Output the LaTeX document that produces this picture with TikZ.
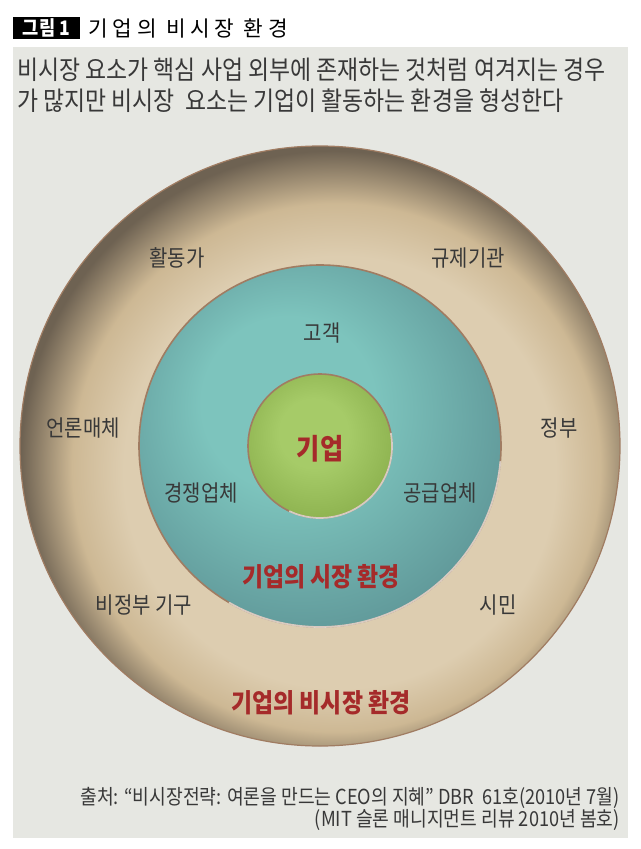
\documentclass[tikz,border=0pt]{standalone}
\usepackage{fontspec}
\usepackage{xcolor}
\usetikzlibrary{positioning}
\setmainfont{Noto Sans CJK KR}[FakeStretch=0.88]
\newfontfamily\titlefont{Noto Sans CJK KR}[LetterSpace=22]

\definecolor{bgGray}{HTML}{E6E7E2}
\definecolor{beigeL}{HTML}{DDCDB0}
\definecolor{beigeM}{HTML}{CDB894}
\definecolor{brownD}{HTML}{6E6252}
\definecolor{rimBrown}{HTML}{A07C62}
\definecolor{tealL}{HTML}{7DC4BD}
\definecolor{tealD}{HTML}{5C9294}
\definecolor{greenL}{HTML}{A6CB68}
\definecolor{greenD}{HTML}{88AD4A}
\definecolor{txtDark}{HTML}{383838}
\definecolor{redT}{HTML}{A52A2A}

\pgfdeclareradialshading{ringshade}{\pgfpoint{3bp}{-4bp}}{color(0bp)=(beigeL); color(18bp)=(beigeL); color(22bp)=(beigeM); color(26bp)=(brownD); color(40bp)=(brownD)}
\pgfdeclareradialshading{tealshade}{\pgfpoint{-6bp}{8bp}}{color(0bp)=(tealL); color(12bp)=(tealL); color(32bp)=(tealD); color(45bp)=(tealD)}
\pgfdeclareradialshading{greenshade}{\pgfpoint{-3bp}{6bp}}{color(0bp)=(greenL); color(12bp)=(greenL); color(32bp)=(greenD); color(45bp)=(greenD)}

\tikzset{
  lbl/.style={font=\fontsize{17}{20}\selectfont, text=txtDark, inner sep=0pt},
  redlbl/.style={font=\bfseries\fontsize{19.5}{23}\selectfont, text=redT, inner sep=0pt},
  subline/.style={anchor=west, inner sep=0pt, font=\fontsize{19.5}{23}\selectfont, text=txtDark},
  srcline/.style={anchor=east, inner sep=0pt, font=\fontsize{15.5}{18}\selectfont, text=txtDark},
  rim/.style={draw=rimBrown, line width=1.2pt},
  hilite/.style={draw=white, line width=1.3pt, line cap=round, opacity=0.6}
}

\begin{document}
\begin{tikzpicture}[x=0.75pt, y=-0.75pt]
    % Page and grey panel
    \useasboundingbox (0,0) rectangle (640,849);
    \fill[white] (0,0) rectangle (640,849);
    \fill[bgGray] (13,47) rectangle (628,838);
    % Title
    \node[fill=black, text=white, font=\bfseries\fontsize{15}{17}\selectfont,
          minimum width=50pt, minimum height=16.5pt, inner sep=0pt] (figtag) at (46.5,28) {그림 1};
    \node[anchor=west, inner sep=0pt, font=\titlefont\fontsize{16}{19}\selectfont,
          right=6pt of figtag] (title) {기업의 비시장 환경};
    % Lead text
    \node[subline] (lead1) at (17,70) {비시장 요소가 핵심 사업 외부에 존재하는 것처럼 여겨지는 경우};
    \node[subline] (lead2) at (17,101) {가 많지만 비시장\ \ 요소는 기업이 활동하는 환경을 형성한다};
    % The three circles
    \coordinate (ctr) at (320,446);
    \shade[shading=ringshade] (ctr) circle (300);
    \draw[draw=rimBrown, line width=0.9pt] (ctr) circle (300);
    \shade[shading=tealshade] (ctr) circle (181);
    \draw[rim] (ctr) circle (181);
    \draw[hilite] ([shift={(5:181)}]ctr) arc[start angle=5, end angle=120, radius=181];
    \shade[shading=greenshade] (ctr) circle (72);
    \draw[rim] (ctr) circle (72);
    \draw[hilite] ([shift={(-10:72)}]ctr) arc[start angle=-10, end angle=115, radius=72];
    % Non-market actors
    \node[lbl] (activist) at (177,258) {활동가};
    \node[lbl] (regulator) at (468,258) {규제기관};
    \node[lbl] (media) at (83,428) {언론매체};
    \node[lbl] (govt) at (559,428) {정부};
    \node[lbl] (ngo) at (144,605) {비정부 기구};
    \node[lbl] (citizen) at (498,605) {시민};
    % Market actors
    \node[lbl] (customer) at (322,333) {고객};
    \node[lbl] (rival) at (201,493) {경쟁업체};
    \node[lbl] (supplier) at (440,493) {공급업체};
    % Red headings
    \node[redlbl, font=\bfseries\fontsize{21.5}{25}\selectfont] (firm) at (320,449) {기업};
    \node[redlbl] (market) at (321,577) {기업의 시장 환경};
    \node[redlbl] (nonmarket) at (321,703) {기업의 비시장 환경};
    % Source
    \node[srcline] (src1) at (620,798) {출처: “비시장전략: 여론을 만드는 CEO의 지혜” DBR\ \ 61호(2010년 7월)};
    \node[srcline] (src2) at (620,820) {(MIT 슬론 매니지먼트 리뷰 2010년 봄호)};
\end{tikzpicture}
\end{document}
